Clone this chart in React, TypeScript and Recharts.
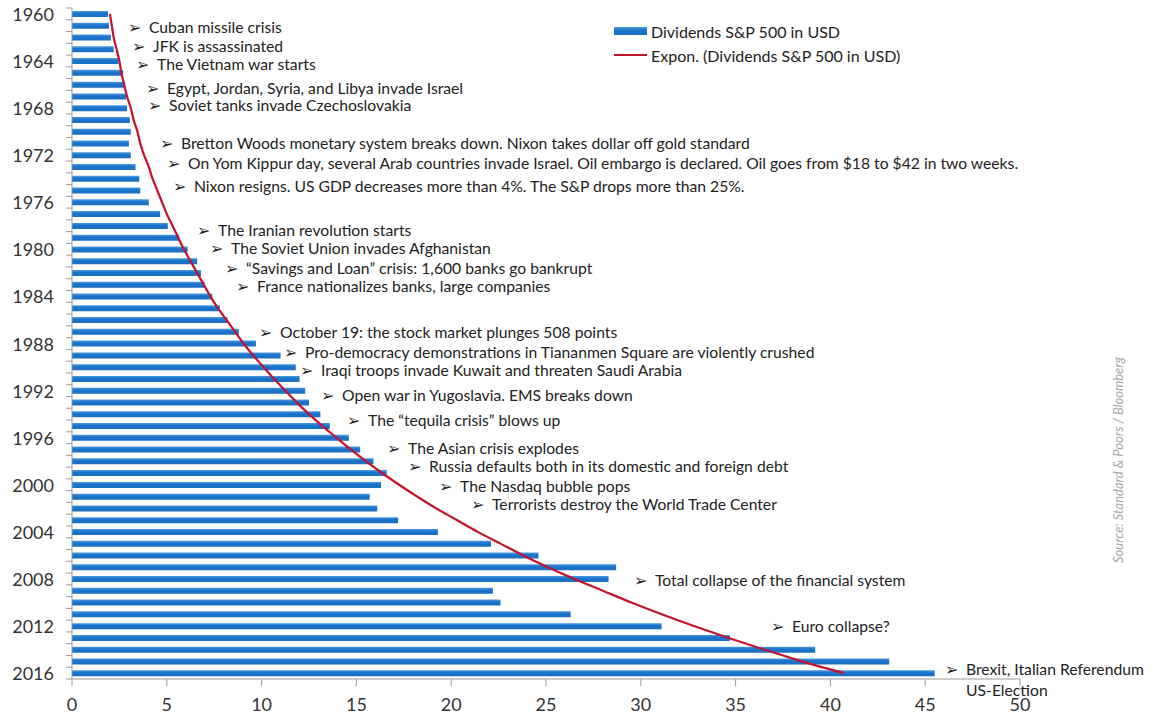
import { ComposedChart, Bar, Line, XAxis, YAxis, Legend } from 'recharts';

const years = [
  1960, 1961, 1962, 1963, 1964, 1965, 1966, 1967, 1968, 1969,
  1970, 1971, 1972, 1973, 1974, 1975, 1976, 1977, 1978, 1979,
  1980, 1981, 1982, 1983, 1984, 1985, 1986, 1987, 1988, 1989,
  1990, 1991, 1992, 1993, 1994, 1995, 1996, 1997, 1998, 1999,
  2000, 2001, 2002, 2003, 2004, 2005, 2006, 2007, 2008, 2009,
  2010, 2011, 2012, 2013, 2014, 2015, 2016,
];

// dividends per share, read off the bars
const dividends = [
  1.9, 1.95, 2.05, 2.2, 2.45, 2.7, 2.8, 2.85, 2.9, 3.05,
  3.1, 3.0, 3.1, 3.35, 3.55, 3.6, 4.05, 4.65, 5.05, 5.65,
  6.1, 6.6, 6.8, 7.0, 7.4, 7.8, 8.2, 8.8, 9.7, 11.0,
  11.8, 12.0, 12.3, 12.5, 13.1, 13.6, 14.6, 15.2, 15.9, 16.6,
  16.3, 15.7, 16.1, 17.2, 19.3, 22.1, 24.6, 28.7, 28.3, 22.2,
  22.6, 26.3, 31.1, 34.7, 39.2, 43.1, 45.5,
];

// red exponential trend line, read off the curve year by year
const trendline = [
  2.0, 2.1, 2.2, 2.35, 2.5, 2.6, 2.75, 2.9, 3.1, 3.25,
  3.45, 3.6, 3.8, 4.05, 4.25, 4.5, 4.75, 5.0, 5.3, 5.6,
  5.9, 6.25, 6.6, 6.95, 7.3, 7.7, 8.15, 8.6, 9.05, 9.55,
  10.1, 10.65, 11.25, 11.85, 12.5, 13.2, 13.95, 14.7, 15.5, 16.35,
  17.25, 18.2, 19.2, 20.3, 21.4, 22.6, 23.8, 25.1, 26.5, 28.0,
  29.5, 31.1, 32.8, 34.6, 36.5, 38.5, 40.7,
];

const xTicks = [0, 5, 10, 15, 20, 25, 30, 35, 40, 45, 50];

const events = [
  'Cuban missile crisis',
  'JFK is assassinated',
  'The Vietnam war starts',
  'Egypt, Jordan, Syria, and Libya invade Israel',
  'Soviet tanks invade Czechoslovakia',
  'Bretton Woods monetary system breaks down. Nixon takes dollar off gold standard',
  'On Yom Kippur day, several Arab countries invade Israel. Oil embargo is declared. Oil goes from $18 to $42 in two weeks.',
  'Nixon resigns. US GDP decreases more than 4%. The S&P drops more than 25%.',
  'The Iranian revolution starts',
  'The Soviet Union invades Afghanistan',
  '\u201cSavings and Loan\u201d crisis: 1,600 banks go bankrupt',
  'France nationalizes banks, large companies',
  'October 19: the stock market plunges 508 points',
  'Pro-democracy demonstrations in Tiananmen Square are violently crushed',
  'Iraqi troops invade Kuwait and threaten Saudi Arabia',
  'Open war in Yugoslavia. EMS breaks down',
  'The \u201ctequila crisis\u201d blows up',
  'The Asian crisis explodes',
  'Russia defaults both in its domestic and foreign debt',
  'The Nasdaq bubble pops',
  'Terrorists destroy the World Trade Center',
  'Total collapse of the financial system',
  'Euro collapse?',
  'Brexit, Italian Referendum',
];

// layout only: where each note's text starts on the page
const eventSpots: [number, number][] = [
  [149, 27], [153, 46], [157, 64], [167, 88], [169, 105],
  [181, 143], [188, 163], [194, 186], [218, 230], [231, 248],
  [246, 268], [257, 286], [280, 332], [305, 352], [321, 370],
  [342, 395], [368, 420], [408, 448], [429, 466], [460, 486],
  [492, 504], [655, 580], [792, 626], [966, 669],
];

const W = 1153;
const H = 714;
const PLOT_TOP = 8;
const X_AXIS_H = 35;
const BAND = (H - PLOT_TOP - X_AXIS_H) / years.length;
const FONT = 'Lato, "Open Sans", sans-serif';

const data = years.map((year, i) => ({
  year,
  dividends: dividends[i],
  trend: trendline[i],
}));

function YearTick(props: any) {
  const { x, y, payload, index } = props;
  const axisX = x + 18;
  const half = BAND / 2;
  return (
    <g>
      {index === 0 && (
        <line x1={axisX - 6} x2={axisX} y1={y - half} y2={y - half} stroke="#9a9a9a" />
      )}
      <line x1={axisX - 6} x2={axisX} y1={y + half} y2={y + half} stroke="#9a9a9a" />
      {payload.value % 4 === 0 && (
        <text x={x} y={y} textAnchor="end" dominantBaseline="central" fill="#333" fontSize={18} fontFamily={FONT}>
          {payload.value}
        </text>
      )}
    </g>
  );
}

function LegendBox() {
  const row = { display: 'flex', alignItems: 'center', height: 24 } as const;
  return (
    <div style={{ fontFamily: FONT, fontSize: 16, color: '#222' }}>
      <div style={row}>
        <svg width={34} height={10}>
          <rect x={0} y={1} width={33} height={8} fill="url(#legendGrad)" />
          <defs>
            <linearGradient id="legendGrad" x1="0" y1="0" x2="0" y2="1">
              <stop offset="0%" stopColor="#4c9be2" />
              <stop offset="40%" stopColor="#1a74cb" />
              <stop offset="100%" stopColor="#1b6fc1" />
            </linearGradient>
          </defs>
        </svg>
        <span style={{ marginLeft: 3 }}>Dividends S&amp;P 500 in USD</span>
      </div>
      <div style={row}>
        <svg width={34} height={10}>
          <line x1={0} x2={33} y1={5} y2={5} stroke="#c4122f" strokeWidth={2} />
        </svg>
        <span style={{ marginLeft: 3 }}>Expon. (Dividends S&amp;P 500 in USD)</span>
      </div>
    </div>
  );
}

export default function App() {
  return (
    <div style={{ position: 'absolute', left: 0, top: 0, width: W, height: H, background: '#fff' }}>
      <ComposedChart
        width={W}
        height={H}
        data={data}
        layout="vertical"
        margin={{ top: PLOT_TOP, right: 133, bottom: 0, left: 0 }}
      >
        <defs>
          <linearGradient id="barGrad" x1="0" y1="0" x2="0" y2="1">
            <stop offset="0%" stopColor="#4c9be2" />
            <stop offset="40%" stopColor="#1a74cb" />
            <stop offset="100%" stopColor="#1b6fc1" />
          </linearGradient>
        </defs>
        <XAxis
          type="number"
          domain={[0, 50]}
          ticks={xTicks}
          height={X_AXIS_H}
          tickSize={7}
          tickMargin={12}
          axisLine={{ stroke: '#9a9a9a' }}
          tickLine={{ stroke: '#9a9a9a' }}
          tick={{ fill: '#333', fontSize: 18, fontFamily: FONT }}
        />
        <YAxis
          type="category"
          dataKey="year"
          width={72}
          interval={0}
          tickSize={6}
          tickMargin={12}
          tickLine={false}
          axisLine={{ stroke: '#9a9a9a' }}
          tick={<YearTick />}
        />
        <Legend
          layout="vertical"
          align="center"
          verticalAlign="middle"
          content={<LegendBox />}
          wrapperStyle={{ left: 614, top: 19, width: 320, height: 50 }}
        />
        <Bar
          dataKey="dividends"
          name="Dividends S&P 500 in USD"
          barSize={6}
          fill="url(#barGrad)"
          isAnimationActive={false}
        />
        <Line
          dataKey="trend"
          name="Expon. (Dividends S&P 500 in USD)"
          type="monotone"
          stroke="#c4122f"
          strokeWidth={2.2}
          dot={false}
          activeDot={false}
          isAnimationActive={false}
        />
      </ComposedChart>
      <svg
        width={W}
        height={H}
        style={{ position: 'absolute', left: 0, top: 0, pointerEvents: 'none' }}
        fontFamily={FONT}
      >
        {events.map((txt, i) => {
          const [tx, ty] = eventSpots[i];
          return (
            <g key={txt}>
              <text x={tx - 21} y={ty} dominantBaseline="central" fontSize={16} fill="#222" fontFamily="DejaVu Sans">
                {'\u27a2'}
              </text>
              <text x={tx} y={ty} dominantBaseline="central" fontSize={15.7} fill="#222">
                {txt}
              </text>
            </g>
          );
        })}
        <text x={966} y={690} dominantBaseline="central" fontSize={15.7} fill="#222">
          US-Election
        </text>
        <text
          x={1118}
          y={460}
          transform="rotate(-90 1118 460)"
          textAnchor="middle"
          dominantBaseline="central"
          fontSize={13}
          fontStyle="italic"
          fill="#a8a8a8"
        >
          Source: Standard &amp; Poors / Bloomberg
        </text>
      </svg>
    </div>
  );
}
